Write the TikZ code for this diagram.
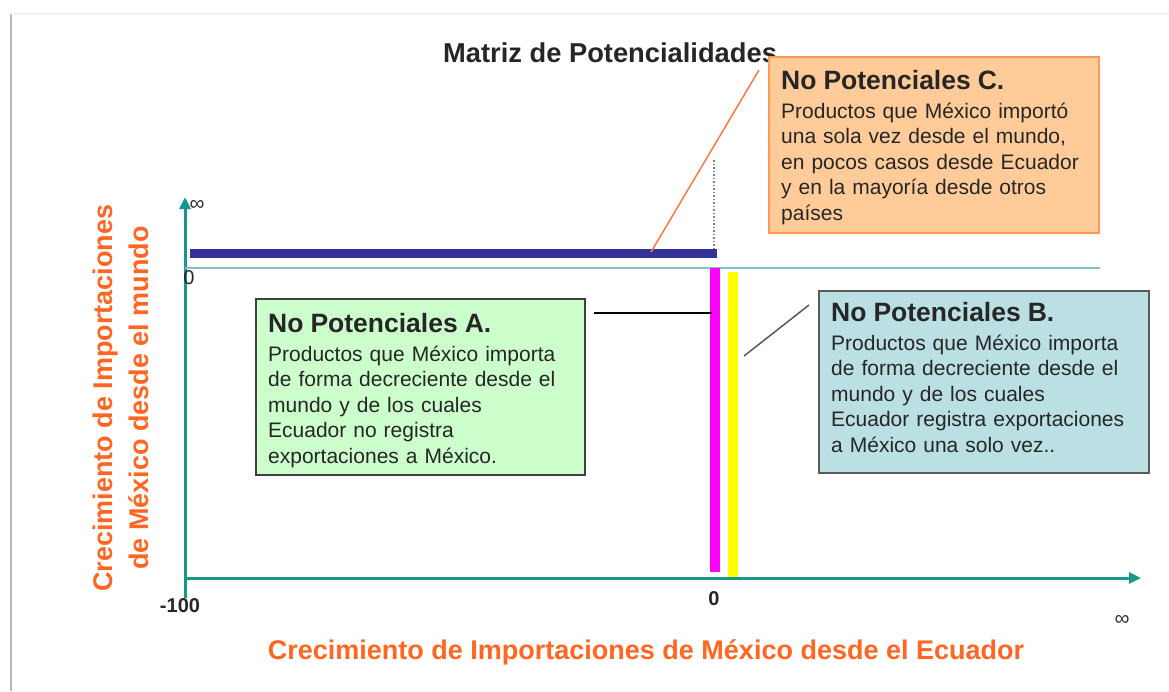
\documentclass[tikz,border=0pt]{standalone}
\usepackage{fontspec}
\setmainfont{Liberation Sans}
\usetikzlibrary{arrows.meta}
\definecolor{axisteal}{HTML}{16988F}
\definecolor{thinteal}{HTML}{7CC4C0}
\definecolor{barblue}{HTML}{333399}
\definecolor{peach}{HTML}{FFCC99}
\definecolor{peachline}{HTML}{FF9955}
\definecolor{palegreen}{HTML}{CCFFCC}
\definecolor{paleteal}{HTML}{BBE0E3}
\definecolor{labelorange}{HTML}{FF6622}
\definecolor{leadorange}{HTML}{FF7744}
\definecolor{barmagenta}{HTML}{FF00FF}
\definecolor{baryellow}{HTML}{FFFF00}
\newcommand\ttlfont{\fontsize{26.5}{30}\selectfont\bfseries}
\newcommand\bdyfont{\fontsize{21}{25.5}\selectfont}
\newcommand\axfont{\fontsize{27}{34}\selectfont\bfseries}
\begin{document}
\begin{tikzpicture}[x=1pt,y=-1pt,
  boxstyle/.style={draw, line width=1.5pt, anchor=north west, inner sep=0pt},
  txtstyle/.style={anchor=north west, inner sep=0pt, align=left, text width=310pt, font=\bdyfont, text=black!85},
  axisline/.style={draw=axisteal, line width=3pt, -{Triangle[length=12pt,width=11pt]}},
  numlabel/.style={font=\fontsize{20}{24}\selectfont, text=black!85, inner sep=0pt},
  inflabel/.style={font=\fontsize{21}{24}\selectfont, text=black!80, inner sep=0pt},
  axlabel/.style={font=\axfont, text=labelorange, inner sep=0pt, align=center}]
\useasboundingbox (0,0) rectangle (1169,691);
\fill[white] (0,0) rectangle (1169,691);
% frame shadow
\draw[gray!55, line width=2pt] (11,14) -- (11,691);
\draw[gray!12, line width=2pt] (11,14) -- (1169,14);

% title
\node[font=\fontsize{27.3}{30}\selectfont\bfseries, text=black!85, inner sep=0pt, anchor=base west] (title) at (443,62) {Matriz de Potencialidades};

% axes
\coordinate (origin) at (185,578);
\coordinate (ybot) at (185,598);
\coordinate (ytop) at (185,197);
\coordinate (xend) at (1141,578);
\draw[axisline] (ybot) -- (ytop);
\draw[axisline] (origin) -- (xend);
\coordinate (zl) at (185,268);
\coordinate (zr) at (1100,268);
\draw[thinteal, line width=1.5pt] (zl) -- (zr);

% bars
\coordinate (bl) at (190,253);
\coordinate (br) at (717,253);
\draw[barblue, line width=9pt] (bl) -- (br);
\coordinate (dtop) at (714,160);
\coordinate (dbot) at (714,248);
\draw[gray, line width=1.5pt, dotted] (dtop) -- (dbot);
\coordinate (mt) at (715,268);
\coordinate (mb) at (715,572);
\draw[barmagenta, line width=10pt] (mt) -- (mb);
\coordinate (yt) at (733,272);
\coordinate (yb) at (733,577);
\draw[baryellow, line width=10pt] (yt) -- (yb);

% axis numbers
\node[inflabel] (infy) at (197,205) {∞};
\node[numlabel] (zeroy) at (189,278) {0};
\node[numlabel, font=\fontsize{20}{24}\selectfont\bfseries] (m100) at (180,606) {-100};
\node[numlabel, font=\fontsize{20}{24}\selectfont\bfseries] (zerox) at (714,599) {0};
\node[inflabel] (infx) at (1122,620) {∞};

% axis labels
\node[axlabel, rotate=90] (ylab) at (121,398) {Crecimiento de Importaciones\\[2pt]de México desde el mundo};
\node[axlabel] (xlab) at (646,652) {Crecimiento de Importaciones de México desde el Ecuador};

% box C
\node[boxstyle, draw=peachline, fill=peach, minimum width=330pt, minimum height=176pt] (boxC) at (768,56) {};
\node[txtstyle] (txtC) at (781,70) {{\ttlfont No Potenciales C.}\\[3.5pt]
Productos que México importó\\
una sola vez desde el mundo,\\
en pocos casos desde Ecuador\\
y en la mayoría desde otros\\
países};

% box A
\node[boxstyle, draw=black!75, fill=palegreen, minimum width=329pt, minimum height=176pt] (boxA) at (255,298) {};
\node[txtstyle] (txtA) at (268,313) {{\ttlfont No Potenciales A.}\\[3.5pt]
Productos que México importa\\
de forma decreciente desde el\\
mundo y de los cuales\\
Ecuador no registra\\
exportaciones a México.};

% box B
\node[boxstyle, draw=black!65, fill=paleteal, minimum width=330pt, minimum height=182pt] (boxB) at (818,290) {};
\node[txtstyle] (txtB) at (831,302) {{\ttlfont No Potenciales B.}\\[3.5pt]
Productos que México importa\\
de forma decreciente desde el\\
mundo y de los cuales\\
Ecuador registra exportaciones\\
a México una solo vez..};

% leader lines
\coordinate (lc1) at (759,70);
\coordinate (lc2) at (651,252);
\draw[leadorange, line width=1.5pt] (lc1) -- (lc2);
\coordinate (la1) at (594,313);
\coordinate (la2) at (712,313);
\draw[black, line width=1.3pt] (la1) -- (la2);
\coordinate (lb1) at (809,305);
\coordinate (lb2) at (744,356);
\draw[black!65, line width=1.5pt] (lb1) -- (lb2);
\end{tikzpicture}
\end{document}
